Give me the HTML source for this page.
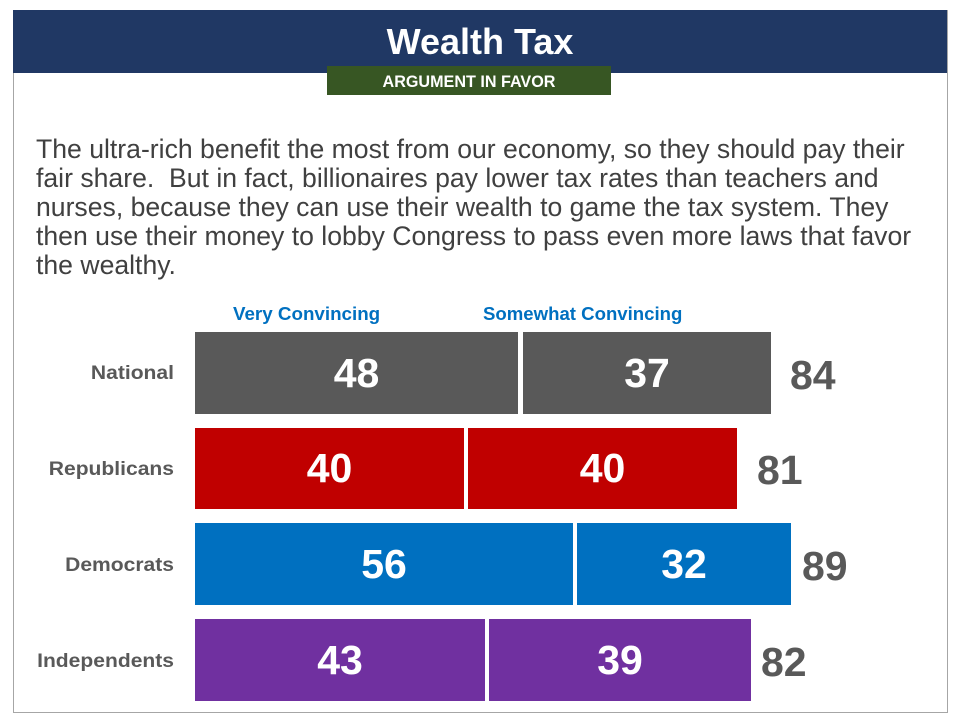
<!DOCTYPE html>
<html><head><style>
body{margin:0;width:960px;height:720px;background:#fff;position:relative;font-family:"Liberation Sans",Arial,sans-serif;overflow:hidden}
.a{position:absolute}
.bar{position:absolute;color:#fff;font-weight:bold;font-size:41px;display:flex;align-items:center;justify-content:center}
.lab{position:absolute;left:10px;width:164px;text-align:right;font-weight:bold;font-size:19.5px;color:#595959;transform-origin:right center;transform:scaleX(1.08)}
.tot{position:absolute;font-weight:bold;font-size:41px;color:#595959}
</style></head><body>
<div class="a" style="left:13px;top:10px;width:933px;height:701px;border:1px solid #a6a6a6"></div>
<div class="a" style="left:13px;top:10px;width:934px;height:63px;background:#203864"></div>
<div class="a" style="left:13px;top:21px;width:934px;text-align:center;color:#fff;font-weight:bold;font-size:36px">Wealth Tax</div>
<div class="a" style="left:327px;top:66px;width:284px;height:29px;background:#375623;color:#fff;font-weight:bold;font-size:17px;text-align:center;line-height:31px"><span style="display:inline-block;transform:scaleX(0.95)">ARGUMENT IN FAVOR</span></div>
<div class="a" style="left:36px;top:135px;width:920px;font-size:26.6px;line-height:29px;color:#404040;white-space:nowrap">The ultra-rich benefit the most from our economy, so they should pay their<br>fair share.&nbsp; But in fact, billionaires pay lower tax rates than teachers and<br>nurses, because they can use their wealth to game the tax system. They<br>then use their money to lobby Congress to pass even more laws that favor<br>the wealthy.</div>
<div class="a" style="left:233px;top:303px;color:#0070c0;font-weight:bold;font-size:18.8px">Very Convincing</div>
<div class="a" style="left:483px;top:303px;color:#0070c0;font-weight:bold;font-size:18.6px">Somewhat Convincing</div>

<div class="lab" style="top:362px">National</div>
<div class="bar" style="left:195px;top:332px;width:323px;height:82px;background:#595959">48</div>
<div class="bar" style="left:523px;top:332px;width:248px;height:82px;background:#595959">37</div>
<div class="tot" style="left:790px;top:352px">84</div>

<div class="lab" style="top:458px">Republicans</div>
<div class="bar" style="left:195px;top:428px;width:269px;height:81px;background:#c00000">40</div>
<div class="bar" style="left:468px;top:428px;width:269px;height:81px;background:#c00000">40</div>
<div class="tot" style="left:757px;top:447px">81</div>

<div class="lab" style="top:554px">Democrats</div>
<div class="bar" style="left:195px;top:523px;width:378px;height:82px;background:#0070c0">56</div>
<div class="bar" style="left:577px;top:523px;width:214px;height:82px;background:#0070c0">32</div>
<div class="tot" style="left:802px;top:543px">89</div>

<div class="lab" style="top:650px">Independents</div>
<div class="bar" style="left:195px;top:619px;width:290px;height:82px;background:#7030a0">43</div>
<div class="bar" style="left:489px;top:619px;width:262px;height:82px;background:#7030a0">39</div>
<div class="tot" style="left:761px;top:639px">82</div>
</body></html>
